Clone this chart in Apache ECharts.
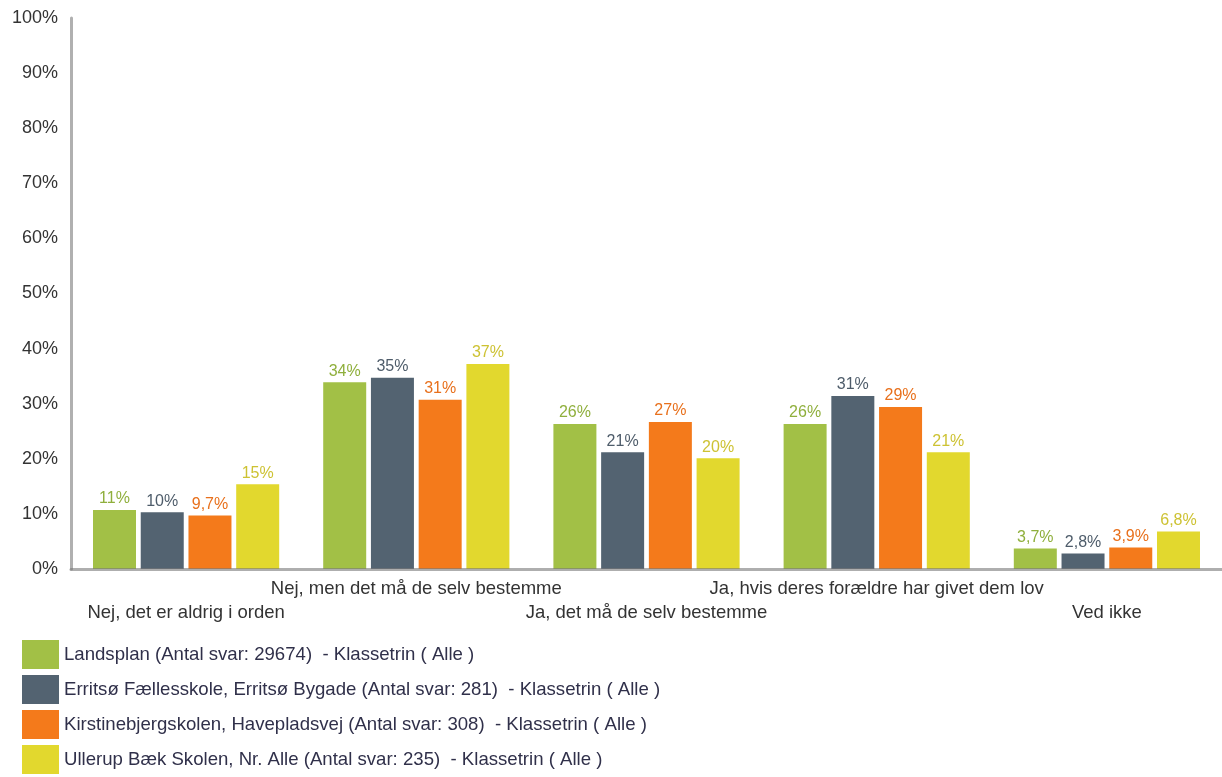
<!DOCTYPE html>
<html><head><meta charset="utf-8">
<script src="https://cdn.jsdelivr.net/npm/echarts@6/dist/echarts.min.js"></script>
<style>html,body{margin:0;padding:0;background:#fff}#c{width:1222px;height:777px}</style>
</head><body><div id="c"></div>
<script>
const categories = ["Nej, det er aldrig i orden","Nej, men det må de selv bestemme","Ja, det må de selv bestemme","Ja, hvis deres forældre har givet dem lov","Ved ikke"];
const seriesNames = ["Landsplan (Antal svar: 29674)  - Klassetrin ( Alle )","Erritsø Fællesskole, Erritsø Bygade (Antal svar: 281)  - Klassetrin ( Alle )","Kirstinebjergskolen, Havepladsvej (Antal svar: 308)  - Klassetrin ( Alle )","Ullerup Bæk Skolen, Nr. Alle (Antal svar: 235)  - Klassetrin ( Alle )"];
const landsplan = [10.7, 33.9, 26.3, 26.3, 3.7];
const erritso = [10.3, 34.7, 21.2, 31.4, 2.8];
const kirstinebjerg = [9.7, 30.7, 26.7, 29.4, 3.9];
const ullerup = [15.4, 37.2, 20.1, 21.2, 6.8];
const yTicks = [0,10,20,30,40,50,60,70,80,90,100];

const barColors = ['#a2c046','#536371','#f47a1b','#e2d82e'];
const labelColors = ['#8faf3c','#4e5c6a','#e8701c','#cdc233'];
const data = [landsplan, erritso, kirstinebjerg, ullerup];
const fmt = v => v < 10 ? v.toFixed(1).replace('.', ',') + '%' : Math.round(v) + '%';

const chart = echarts.init(document.getElementById('c'), null, {renderer:'canvas'});
chart.setOption({
  animation:false,
  textStyle:{fontFamily:'Liberation Sans, Arial, sans-serif'},
  grid:{left:71, right:0, top:18, bottom:208, containLabel:false},
  legend:{
    orient:'vertical', left:22, top:640, padding:0, itemWidth:37, itemHeight:29, itemGap:6,
    icon:'rect', data:seriesNames,
    textStyle:{fontSize:18.6, color:'#30304a'}
  },
  xAxis:{
    type:'category', data:categories, z:5,
    axisLine:{lineStyle:{color:'rgba(120,120,120,0.6)', width:3}},
    axisTick:{show:false},
    axisLabel:{interval:0, fontSize:18.5, color:'#333', margin:8, lineHeight:24,
      formatter:(v, i) => i % 2 === 0 ? '\n' + v : v}
  },
  yAxis:{
    type:'value', min:yTicks[0], max:yTicks[yTicks.length-1], interval:10,
    axisLine:{show:true, lineStyle:{color:'#b0b0b0', width:3}},
    axisTick:{show:false},
    splitLine:{show:false},
    axisLabel:{fontSize:18, color:'#333', margin:13, formatter:v => v + '%'}
  },
  series: data.map((d, k) => ({
    name: seriesNames[k], type:'bar', data:d, barWidth:43, barGap:'11%',
    itemStyle:{color:barColors[k]},
    label:{show:true, position:'top', distance:3, fontSize:16, color:labelColors[k], formatter:p => fmt(p.value)}
  }))
});
</script></body></html>
